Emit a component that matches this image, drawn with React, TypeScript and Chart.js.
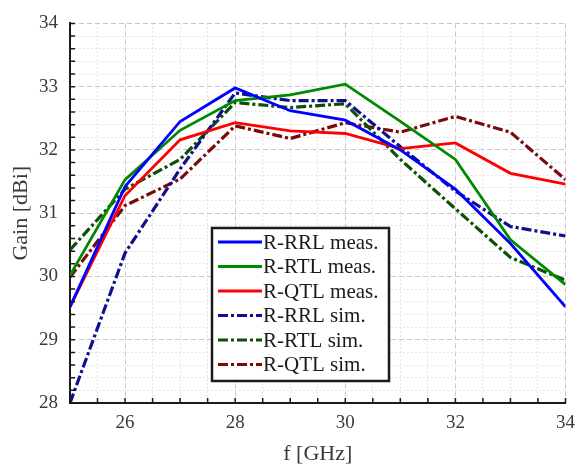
import React, { useEffect, useRef } from "react";
import { Chart, registerables } from "chart.js";

Chart.register(...registerables);

// ---- data ----
const freqGHz = [25, 26, 27, 28, 29, 30, 31, 32, 33, 34];
const rrlMeas = [29.52, 31.42, 32.45, 32.98, 32.62, 32.47, 32.0, 31.38, 30.52, 29.52];
const rtlMeas = [30.02, 31.53, 32.31, 32.78, 32.87, 33.04, 32.45, 31.85, 30.58, 29.87];
const qtlMeas = [29.52, 31.28, 32.16, 32.43, 32.3, 32.26, 32.02, 32.11, 31.63, 31.46];
const rrlSim = [28.0, 30.37, 31.7, 32.9, 32.78, 32.78, 32.05, 31.35, 30.79, 30.64];
const rtlSim = [30.42, 31.38, 31.85, 32.75, 32.67, 32.73, 31.85, 31.07, 30.3, 29.94];
const qtlSim = [29.99, 31.12, 31.54, 32.38, 32.18, 32.43, 32.28, 32.53, 32.28, 31.53];

const seriesLabels = [
  "R-RRL meas.",
  "R-RTL meas.",
  "R-QTL meas.",
  "R-RRL sim.",
  "R-RTL sim.",
  "R-QTL sim.",
];
const seriesValues = [rrlMeas, rtlMeas, qtlMeas, rrlSim, rtlSim, qtlSim];
const seriesColors = ["#0000ff", "#008a00", "#ff0000", "#10108c", "#0b4f0b", "#7a0a0a"];
const seriesIsSim = [false, false, false, true, true, true];

const xMin = 25;
const xMax = 34;
const xMinorStep = 0.5;
const xMajorStep = 2;
const yMin = 28;
const yMax = 34;
const yMinorStep = 0.2;
const yMajorStep = 1;

const FONT = '"Liberation Serif", "Times New Roman", serif';
const SIM_DASH = [10, 3, 3, 3];

const isMultiple = (v: number, step: number) =>
  Math.abs(v / step - Math.round(v / step)) < 1e-6;

const buildTicks = (min: number, max: number, step: number) => {
  const out: { value: number }[] = [];
  const n = Math.round((max - min) / step);
  for (let i = 0; i <= n; i++) out.push({ value: +(min + i * step).toFixed(4) });
  return out;
};

const innerTicksPlugin = {
  id: "innerTicks",
  afterDatasetsDraw(chart: any) {
    const { ctx, chartArea, scales } = chart;
    ctx.save();
    ctx.strokeStyle = "#1a1a1a";
    ctx.lineWidth = 1.5;
    ctx.beginPath();
    for (const t of scales.x.ticks) {
      const px = scales.x.getPixelForValue(t.value);
      ctx.moveTo(px, chartArea.bottom);
      ctx.lineTo(px, chartArea.bottom - 5);
    }
    for (const t of scales.y.ticks) {
      const py = scales.y.getPixelForValue(t.value);
      ctx.moveTo(chartArea.left, py);
      ctx.lineTo(chartArea.left + 5, py);
    }
    ctx.stroke();
    ctx.restore();
  },
};

const legendBoxPlugin = {
  id: "legendBox",
  afterDraw(chart: any) {
    const { ctx } = chart;
    const left = 212;
    const top = 228;
    const w = 177;
    const h = 153;
    ctx.save();
    ctx.fillStyle = "#ffffff";
    ctx.fillRect(left, top, w, h);
    ctx.strokeStyle = "#1a1a1a";
    ctx.lineWidth = 2.5;
    ctx.strokeRect(left, top, w, h);
    chart.data.datasets.forEach((ds: any, i: number) => {
      const cy = top + 14 + i * 24.5;
      ctx.strokeStyle = ds.borderColor;
      ctx.lineWidth = ds.borderWidth;
      ctx.setLineDash(ds.borderDash || []);
      ctx.beginPath();
      ctx.moveTo(left + 6, cy);
      ctx.lineTo(left + 50, cy);
      ctx.stroke();
      ctx.setLineDash([]);
      ctx.fillStyle = "#1a1a1a";
      ctx.font = `21px ${FONT}`;
      ctx.textBaseline = "middle";
      ctx.textAlign = "left";
      ctx.fillText(ds.label, left + 51, cy + 1);
    });
    ctx.restore();
  },
};

export default function App() {
  const ref = useRef<HTMLCanvasElement | null>(null);

  useEffect(() => {
    if (!ref.current) return;
    const datasets = seriesLabels.map((label, i) => ({
      label,
      data: freqGHz.map((f, j) => ({ x: f, y: seriesValues[i][j] })),
      borderColor: seriesColors[i],
      backgroundColor: seriesColors[i],
      borderWidth: seriesIsSim[i] ? 3.2 : 2.8,
      borderDash: seriesIsSim[i] ? SIM_DASH : [],
      pointRadius: 0,
      tension: 0,
      fill: false,
    }));

    const chart = new Chart(ref.current, {
      type: "line",
      data: { datasets },
      plugins: [innerTicksPlugin, legendBoxPlugin],
      options: {
        responsive: false,
        animation: false,
        layout: { padding: { top: 15, right: 9, left: 0, bottom: 0 } },
        plugins: {
          legend: { display: false },
          tooltip: { enabled: false },
        },
        scales: {
          x: {
            type: "linear",
            min: xMin,
            max: xMax,
            afterBuildTicks: (s: any) => {
              s.ticks = buildTicks(xMin, xMax, xMinorStep);
            },
            afterFit: (s: any) => {
              s.height = 65;
            },
            ticks: {
              autoSkip: false,
              maxRotation: 0,
              padding: 9,
              color: "#3a3a3a",
              font: { family: FONT, size: 19 },
              callback: (v: any) =>
                isMultiple(Number(v), xMajorStep) && Number(v) > xMin ? String(v) : "",
            },
            grid: {
              drawTicks: false,
              lineWidth: 1,
              color: (c: any) =>
                c.tick && isMultiple(c.tick.value, xMajorStep) ? "#c8c8c8" : "#dcdcdc",
            },
            border: {
              color: "#1a1a1a",
              width: 2,
              dash: (c: any) =>
                c.tick ? (isMultiple(c.tick.value, xMajorStep) ? [5, 3] : [1.5, 2.5]) : [],
            },
            title: {
              display: true,
              text: "f [GHz]",
              color: "#3a3a3a",
              font: { family: FONT, size: 22 },
              padding: { top: 0, bottom: 1 },
            },
          },
          y: {
            type: "linear",
            min: yMin,
            max: yMax,
            afterBuildTicks: (s: any) => {
              s.ticks = buildTicks(yMin, yMax, yMinorStep);
            },
            afterFit: (s: any) => {
              s.width = 70;
            },
            ticks: {
              autoSkip: false,
              padding: 12,
              color: "#3a3a3a",
              font: { family: FONT, size: 19 },
              callback: (v: any) =>
                isMultiple(Number(v), yMajorStep) ? String(Math.round(Number(v))) : "",
            },
            grid: {
              drawTicks: false,
              lineWidth: 1,
              color: (c: any) =>
                c.tick && isMultiple(c.tick.value, yMajorStep) ? "#c8c8c8" : "#dcdcdc",
            },
            border: {
              color: "#1a1a1a",
              width: 2,
              dash: (c: any) =>
                c.tick ? (isMultiple(c.tick.value, yMajorStep) ? [5, 3] : [1.5, 2.5]) : [],
            },
            title: {
              display: true,
              text: "Gain [dBi]",
              color: "#3a3a3a",
              font: { family: FONT, size: 22 },
              padding: { top: 8, bottom: 0 },
            },
          },
        },
      },
    } as any);

    return () => chart.destroy();
  }, []);

  return (
    <div style={{ position: "absolute", left: 0, top: 0, width: 584, height: 468, background: "#fff" }}>
      <canvas ref={ref} width={584} height={468} style={{ width: 584, height: 468, display: "block" }} />
    </div>
  );
}
